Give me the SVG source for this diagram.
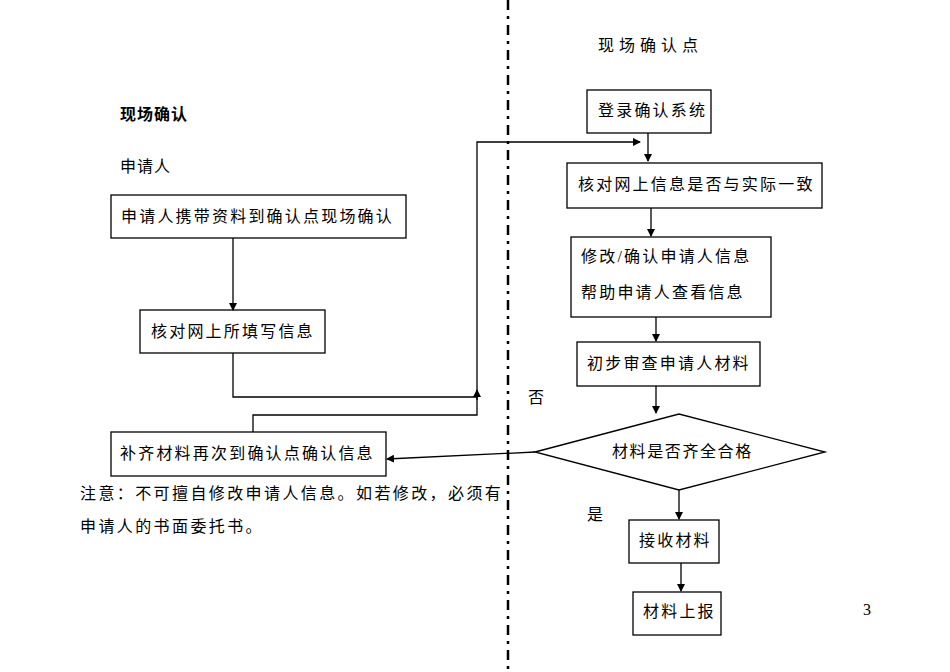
<svg xmlns="http://www.w3.org/2000/svg" width="950" height="672" viewBox="0 0 950 672">
<defs>
<marker id="a" markerWidth="8" markerHeight="8" refX="7" refY="4" orient="auto" markerUnits="userSpaceOnUse"><path d="M0,0 L8,4 L0,8 z" fill="#000"/></marker>
<style>
text{font-family:"Liberation Serif","Noto Sans CJK SC",serif;font-size:16px;fill:#000;letter-spacing:2.2px}
.b{fill:#fff;stroke:#000;stroke-width:1.3}
.c{fill:none;stroke:#000;stroke-width:1.3}
</style>
</defs>
<rect width="950" height="672" fill="#fff"/>
<line x1="508" y1="0" x2="508" y2="672" stroke="#000" stroke-width="2.5" stroke-dasharray="10,6,3,6"/>
<text x="598" y="51" font-size="19" style="letter-spacing:5px">现场确认点</text>
<text x="120" y="120" font-size="19" font-weight="bold" style="letter-spacing:1px">现场确认</text>
<text x="120" y="172" font-size="19" style="letter-spacing:1px">申请人</text>
<text x="528" y="403">否</text>
<text x="587" y="520">是</text>
<text x="80" y="499" font-size="15" style="letter-spacing:2.4px">注意：不可擅自修改申请人信息。如若修改，必须有</text>
<text x="80" y="532" font-size="15" style="letter-spacing:2.4px">申请人的书面委托书。</text>
<text x="863" y="615" font-size="10" style="letter-spacing:0">3</text>
<g id="n1"><rect class="b" x="111" y="195" width="295" height="43"/><text x="121" y="222">申请人携带资料到确认点现场确认</text></g>
<g id="n2"><rect class="b" x="140" y="310" width="185" height="43"/><text x="151" y="337">核对网上所填写信息</text></g>
<g id="n3"><rect class="b" x="111" y="432" width="275" height="44"/><text x="120" y="459">补齐材料再次到确认点确认信息</text></g>
<g id="r1"><rect class="b" x="587" y="90" width="124" height="43"/><text x="598" y="116">登录确认系统</text></g>
<g id="r2"><rect class="b" x="567" y="163" width="255" height="45"/><text x="578" y="190">核对网上信息是否与实际一致</text></g>
<g id="r3"><rect class="b" x="571" y="237" width="200" height="80"/><text x="581" y="262">修改/确认申请人信息</text><text x="581" y="298">帮助申请人查看信息</text></g>
<g id="r4"><rect class="b" x="577" y="342" width="183" height="44"/><text x="587" y="369">初步审查申请人材料</text></g>
<g id="d"><polygon class="b" points="535,452 679,414 825,452 679,490"/><text x="612" y="457" font-size="14" style="letter-spacing:1.6px">材料是否齐全合格</text></g>
<g id="r5"><rect class="b" x="629" y="520" width="90" height="43"/><text x="639" y="546">接收材料</text></g>
<g id="r6"><rect class="b" x="633" y="592" width="88" height="43"/><text x="643" y="617">材料上报</text></g>
<g id="connectors" class="c">
<path class="c" d="M233,238 V310" marker-end="url(#a)"/>
<path class="c" d="M233,353 V397 H477 V392"/>
<path class="c" d="M477,400 V390" marker-end="url(#a)"/>
<path class="c" d="M253,432 V415 H477 V142 H640" marker-end="url(#a)"/>
<path class="c" d="M648,133 V161" marker-end="url(#a)"/>
<path class="c" d="M651,208 V236" marker-end="url(#a)"/>
<path class="c" d="M656,317 V341" marker-end="url(#a)"/>
<path class="c" d="M656,386 V413" marker-end="url(#a)"/>
<path class="c" d="M679,490 V519" marker-end="url(#a)"/>
<path class="c" d="M681,563 V591" marker-end="url(#a)"/>
<path class="c" d="M535,452 L387,459" marker-end="url(#a)"/>
</g>
</svg>
